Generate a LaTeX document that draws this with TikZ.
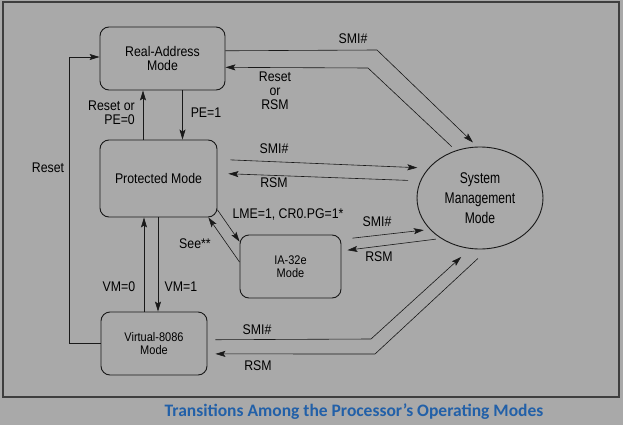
\documentclass[tikz,border=0pt]{standalone}
\usepackage{fontspec}
\setmainfont[FakeStretch=0.88]{Liberation Sans}
\newfontfamily\smmfont[FakeStretch=0.78]{Liberation Sans}
\newfontfamily\titlefont{Carlito}
\usetikzlibrary{arrows.meta,shapes.geometric}
\definecolor{bggray}{RGB}{169,169,169}
\definecolor{framegray}{RGB}{62,62,62}
\definecolor{titleblue}{RGB}{34,96,168}
\definecolor{ink}{RGB}{25,25,25}
\tikzset{
	mode/.style={draw=ink, line width=0.9pt, rounded corners=9pt, align=center, inner sep=0pt},
	arr/.style={draw=ink, line width=0.6pt, -{Stealth[length=10pt,width=6pt,inset=2pt]}},
	lbl/.style={align=center, font=\fontsize{14}{14}\selectfont, inner sep=0pt},
}

\begin{document}
\begin{tikzpicture}[x=1pt,y=-1pt]
	\fill [bggray] (0,0) rectangle (623,425);
	\useasboundingbox (0,0) rectangle (623,425);
	\draw [framegray, line width=1.2pt] (3,2) rectangle (619,397);
	\node [mode, minimum width=125pt, minimum height=63pt, font=\fontsize{14}{14}\selectfont] (real) at (162.5,58.5) {Real-Address\\Mode};
	\node [mode, minimum width=117pt, minimum height=77pt, font=\fontsize{14}{14}\selectfont] (prot) at (158.5,178.5) {Protected Mode};
	\node [mode, minimum width=101pt, minimum height=63pt, font=\fontsize{12.5}{12.5}\selectfont] (ia) at (290.5,266.5) {IA-32e\\Mode};
	\node [mode, minimum width=106pt, minimum height=63pt, font=\fontsize{12.5}{13}\selectfont] (virt) at (154,343.5) {Virtual-8086\\Mode};
	\node [draw=ink, line width=0.9pt, ellipse, minimum width=126pt, minimum height=102pt, inner sep=0pt, align=center, font=\smmfont\fontsize{15.5}{20}\selectfont] (smm) at (480,198) {System\\Management\\Mode};
	\coordinate (rstlow) at (69,343.5);
	\coordinate (rsthigh) at (69,57);
	\draw [arr] (virt.west) -- (rstlow) -- (rsthigh) -- (real.west |- rsthigh);
	\draw [arr] ([xshift=-15.5pt]prot.north) -- ([xshift=-19.5pt]real.south);
	\draw [arr] ([xshift=20pt]real.south) -- ([xshift=24pt]prot.north);
	\draw [arr] ([xshift=-10pt]virt.north) -- ([xshift=-14.5pt]prot.south);
	\draw [arr] ([xshift=-0.5pt]prot.south) -- ([xshift=4pt]virt.north);
	\draw [arr] (prot.-28) -- (ia.154);
	\draw [arr] (ia.175) -- (prot.-38);
	\coordinate (smirb) at (377,50);
	\draw [arr, shorten >=6pt] (real.7.7) -- (smirb) -- (smm.93);
	\coordinate (rsmrb) at (368,68);
	\draw [arr, shorten <=5.5pt] (smm.117) -- (rsmrb) -- (real.-8.7);
	\draw [arr, shorten <=13pt, shorten >=11pt] (prot.18.4) -- (smm.150);
	\draw [arr, shorten <=12pt, shorten >=11pt] (smm.164) -- (prot.5.4);
	\draw [arr, shorten <=11pt, shorten >=6pt] (ia.28.6) -- (smm.212);
	\draw [arr, shorten <=5pt, shorten >=6pt] (smm.226) -- (ia.17);
	\coordinate (smivb) at (371,339);
	\draw [arr, shorten <=8pt, shorten >=12pt] (virt.4.9) -- (smivb) -- (smm.259);
	\coordinate (rsmvb) at (375,354);
	\draw [arr, shorten <=14pt, shorten >=8pt] (smm.279) -- (rsmvb) -- (virt.-11.2);
	\node [lbl] (lreset) at (48,168) {Reset};
	\node [lbl, anchor=east, align=right] (lpe0) at (135,113) {Reset or\\PE=0};
	\node [lbl] (lpe1) at (206,113) {PE=1};
	\node [lbl] (lsmi1) at (353,39) {SMI\#};
	\node [lbl] (lrsm1) at (275,91) {Reset\\or\\RSM};
	\node [lbl] (lsmi2) at (274,149) {SMI\#};
	\node [lbl] (lrsm2) at (274,183) {RSM};
	\node [lbl] (llme) at (288,215) {LME=1, CR0.PG=1*};
	\node [lbl] (lsee) at (195,244) {See**};
	\node [lbl] (lsmi3) at (377,222) {SMI\#};
	\node [lbl] (lrsm3) at (379,257) {RSM};
	\node [lbl] (lvm0) at (119,287) {VM=0};
	\node [lbl] (lvm1) at (181,287) {VM=1};
	\node [lbl] (lsmi4) at (257,330) {SMI\#};
	\node [lbl] (lrsm4) at (258,366) {RSM};
	\node [font=\titlefont\bfseries\fontsize{17.5}{20}\selectfont, text=titleblue, inner sep=0pt] (title) at (354,412) {Transitions Among the Processor’s Operating Modes};
\end{tikzpicture}
\end{document}
